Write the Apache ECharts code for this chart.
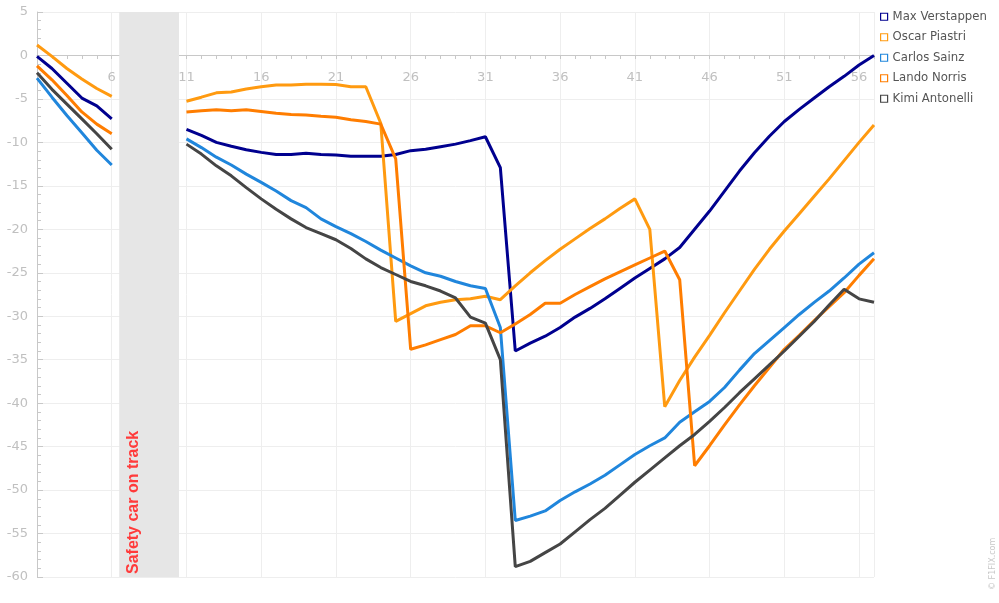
<!DOCTYPE html>
<html>
<head>
<meta charset="utf-8">
<script src="https://cdn.jsdelivr.net/npm/echarts/dist/echarts.min.js"></script>
<style>
html,body{margin:0;padding:0;background:#fff;}
#chart{width:999px;height:603px;}
</style>
</head>
<body>
<div id="chart"></div>
<script>
var laps = [];
for (var l = 1; l <= 57; l++) laps.push(l);

var verstappen = [-0.1,-1.5,-3.2,-4.9,-5.8,-7.3,null,null,null,null,
 -8.5,-9.2,-10.0,-10.45,-10.85,-11.15,-11.4,-11.4,-11.25,-11.4,-11.45,-11.6,-11.6,-11.6,-11.4,-10.95,-10.8,-10.5,-10.2,-9.8,-9.35,-12.9,
 -34.0,-33.1,-32.3,-31.3,-30.1,-29.1,-28.0,-26.8,-25.6,-24.5,-23.4,-22.1,-20.0,-17.9,-15.6,-13.3,-11.2,-9.3,-7.6,-6.2,-4.9,-3.6,-2.4,-1.1,0.0];
var piastri = [1.2,-0.1,-1.5,-2.7,-3.8,-4.7,null,null,null,null,
 -5.27,-4.8,-4.3,-4.2,-3.85,-3.6,-3.4,-3.4,-3.3,-3.3,-3.35,-3.6,-3.6,-7.8,-30.6,-29.7,-28.8,-28.4,-28.1,-28.0,-27.7,-28.1,
 -26.5,-25.0,-23.6,-22.3,-21.1,-19.9,-18.8,-17.6,-16.5,-20.0,-40.4,-37.4,-34.7,-32.2,-29.6,-27.1,-24.6,-22.3,-20.2,-18.2,-16.2,-14.2,-12.1,-10.0,-8.0];
var sainz = [-2.6,-4.8,-6.9,-8.9,-10.9,-12.6,null,null,null,null,
 -9.6,-10.6,-11.7,-12.6,-13.65,-14.6,-15.6,-16.7,-17.5,-18.8,-19.7,-20.5,-21.4,-22.4,-23.3,-24.2,-25.0,-25.4,-26.0,-26.5,-26.8,-31.3,
 -53.5,-53.0,-52.4,-51.2,-50.2,-49.3,-48.3,-47.1,-45.9,-44.9,-44.0,-42.2,-41.0,-39.8,-38.2,-36.2,-34.3,-32.8,-31.3,-29.8,-28.4,-27.1,-25.6,-24.0,-22.7];
var norris = [-1.2,-2.8,-4.6,-6.5,-7.9,-9.0,null,null,null,null,
 -6.5,-6.35,-6.25,-6.35,-6.25,-6.45,-6.65,-6.8,-6.85,-7.0,-7.1,-7.4,-7.6,-7.9,-11.9,-33.8,-33.3,-32.7,-32.1,-31.1,-31.1,-31.9,
 -30.9,-29.8,-28.5,-28.5,-27.5,-26.6,-25.7,-24.9,-24.1,-23.3,-22.5,-25.8,-47.2,-44.9,-42.5,-40.2,-38.0,-35.9,-33.8,-32.2,-30.5,-28.9,-27.3,-25.3,-23.4];
var antonelli = [-2.0,-3.9,-5.6,-7.3,-9.0,-10.8,null,null,null,null,
 -10.2,-11.35,-12.7,-13.85,-15.2,-16.5,-17.7,-18.8,-19.8,-20.5,-21.2,-22.2,-23.4,-24.4,-25.2,-26.0,-26.5,-27.1,-27.9,-30.1,-30.8,-35.0,
 -58.8,-58.2,-57.2,-56.2,-54.8,-53.4,-52.1,-50.6,-49.1,-47.7,-46.3,-44.9,-43.6,-42.1,-40.5,-38.8,-37.2,-35.6,-34.0,-32.3,-30.6,-28.7,-26.9,-28.0,-28.4];

var driverNames = ['Max Verstappen','Oscar Piastri','Carlos Sainz','Lando Norris','Kimi Antonelli'];
var driverColors = ['#00008f','#ff9a10','#2086dc','#ff7d00','#454545'];
var driverValues = [verstappen, piastri, sainz, norris, antonelli];
var safetyCar = [6.5, 10.5];
var safetyCarLabel = 'Safety car on track';

var chart = echarts.init(document.getElementById('chart'), null, {renderer:'canvas'});

var series = driverNames.map(function(name, k){
  var s = {
    name: name,
    type: 'line',
    data: laps.map(function(lap, i){ return [lap, driverValues[k][i]]; }),
    showSymbol: false,
    symbol: 'none',
    connectNulls: false,
    lineStyle: {width: 3, color: driverColors[k]},
    itemStyle: {color: driverColors[k]},
    emphasis: {disabled: true}
  };
  if (k === 0) {
    s.markArea = {
      silent: true,
      itemStyle: {color: '#e6e6e6'},
      data: [[{xAxis: safetyCar[0]}, {xAxis: safetyCar[1]}]]
    };
  }
  return s;
});

chart.setOption({
  animation: false,
  backgroundColor: '#fff',
  grid: {left: 37, right: 125, top: 12, bottom: 26, containLabel: false},
  legend: {
    orient: 'vertical',
    left: 875,
    top: 5,
    icon: 'rect',
    itemWidth: 7,
    itemHeight: 7,
    itemGap: 7,
    data: driverNames.map(function(n, k){
      return {name: n, itemStyle: {color: 'rgba(255,255,255,0)', borderColor: driverColors[k], borderWidth: 1.2}};
    }),
    textStyle: {color: '#555', fontSize: 11.7, fontFamily: 'DejaVu Sans', lineHeight: 13.5}
  },
  xAxis: {
    type: 'value',
    min: 1,
    max: 57,
    interval: 5,
    position: 'bottom',
    offset: -522,
    axisLine: {onZero: false, lineStyle: {color: '#c8c8c8', width: 1}},
    axisTick: {show: true, length: 4, lineStyle: {color: '#c8c8c8'}},
    minorTick: {show: true, splitNumber: 5, length: 4, lineStyle: {color: '#c8c8c8'}},
    axisLabel: {
      color: '#c0c0c0', fontSize: 13, fontFamily: 'DejaVu Sans', margin: 16,
      formatter: function(v){ return (v === 1 || v === 57) ? '' : String(v); }
    },
    splitLine: {show: true, lineStyle: {color: '#eeeeee', width: 1}}
  },
  yAxis: {
    type: 'value',
    min: -60,
    max: 5,
    interval: 5,
    axisLine: {show: true, lineStyle: {color: '#c8c8c8', width: 1}},
    axisTick: {show: true, inside: true, length: 6, lineStyle: {color: '#c8c8c8'}},
    minorTick: {show: true, splitNumber: 5, length: 4, lineStyle: {color: '#c8c8c8'}},
    axisLabel: {color: '#c0c0c0', fontSize: 13, fontFamily: 'DejaVu Sans', margin: 9},
    splitLine: {show: true, lineStyle: {color: '#eeeeee', width: 1}}
  },
  graphic: [
    {
      type: 'text',
      x: 134, y: 574,
      rotation: Math.PI / 2,
      z: 100,
      style: {
        text: safetyCarLabel,
        fill: '#ff3b3b',
        font: 'bold 16px "Liberation Sans", Arial, sans-serif',
        textAlign: 'left',
        textVerticalAlign: 'middle'
      }
    },
    {
      type: 'text',
      x: 993, y: 590,
      rotation: Math.PI / 2,
      z: 100,
      style: {
        text: '\u00a9 F1FIX.com',
        fill: '#c8c8c8',
        font: '8px "DejaVu Sans", sans-serif',
        textAlign: 'left',
        textVerticalAlign: 'middle'
      }
    }
  ],
  series: series
});
</script>
</body>
</html>
